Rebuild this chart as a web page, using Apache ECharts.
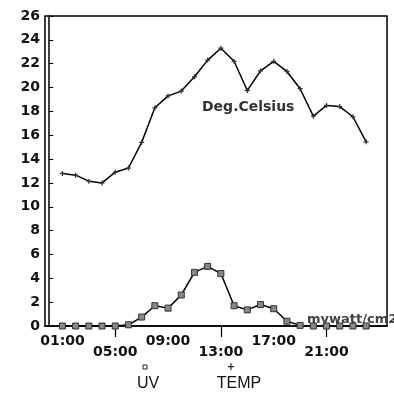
<!DOCTYPE html>
<html><head><meta charset="utf-8">
<script src="https://cdn.jsdelivr.net/npm/echarts@6/dist/echarts.min.js"></script>
<style>html,body{margin:0;padding:0;background:#fff}#c{width:394px;height:401px}</style>
</head><body><div id="c"></div>
<script>
const hours = [1,2,3,4,5,6,7,8,9,10,11,12,13,14,15,16,17,18,19,20,21,22,23,24];
const uv = [0,0,0,0,0,0.1,0.75,1.7,1.5,2.6,4.5,5.0,4.4,1.7,1.35,1.8,1.45,0.4,0.05,0,0,0,0,0];
const temp = [12.8,12.65,12.15,12.0,12.9,13.25,15.4,18.3,19.3,19.7,20.9,22.3,23.3,22.2,19.75,21.4,22.2,21.35,19.9,17.6,18.5,18.4,17.55,15.45];
const upperTickHours = [1,9,17];
const lowerTickHours = [5,13,21];
const yTicks = [0,2,4,6,8,10,12,14,16,18,20,22,24,26];
const seriesNames = ['UV','TEMP'];
const unitLabels = ['Deg.Celsius','mywatt/cm2'];

const fmt = v => (v < 10 ? '0' : '') + v + ':00';
const xMin = -0.32, xMax = 25.58;
const lblFont = {fontFamily:'DejaVu Sans', fontWeight:'bold', fontSize:14, color:'#111'};
const plus = 'path://M3,0H5V3H8V5H5V8H3V5H0V3H3Z';

const chart = echarts.init(document.getElementById('c'));
chart.setOption({
  animation:false,
  backgroundColor:'#fff',
  grid:{left:45, right:7, top:16, bottom:75, show:true, borderColor:'#000', borderWidth:1.5},
  xAxis:[
    {type:'value', min:xMin, max:xMax, position:'bottom',
     axisLine:{show:true, lineStyle:{color:'#000', width:1.5}},
     axisTick:{show:true, customValues:lowerTickHours, length:11, lineStyle:{color:'#000', width:1.2}},
     axisLabel:Object.assign({customValues:upperTickHours, margin:8, formatter:fmt}, lblFont),
     splitLine:{show:false}},
    {type:'value', min:xMin, max:xMax, position:'bottom', gridIndex:0,
     axisLine:{show:false}, axisTick:{show:false},
     axisLabel:Object.assign({customValues:lowerTickHours, margin:19, formatter:fmt}, lblFont),
     splitLine:{show:false}}
  ],
  yAxis:{type:'value', min:yTicks[0], max:yTicks[yTicks.length-1], interval:2,
    axisLine:{show:true, lineStyle:{color:'#000', width:1.5}},
    axisTick:{show:true, inside:true, length:4, lineStyle:{color:'#000'}},
    axisLabel:Object.assign({margin:5}, lblFont),
    splitLine:{show:false}},
  series:[
    {name:seriesNames[0], type:'line', xAxisIndex:0, data:hours.map((h,i)=>[h,uv[i]]),
     symbol:'rect', symbolSize:6, showAllSymbol:true,
     itemStyle:{color:'#888', borderColor:'#333', borderWidth:1},
     lineStyle:{color:'#000', width:1.5}},
    {name:seriesNames[1], type:'line', xAxisIndex:0, data:hours.map((h,i)=>[h,temp[i]]),
     symbol:plus, symbolSize:5, showAllSymbol:true,
     itemStyle:{color:'#333'},
     lineStyle:{color:'#000', width:1.5}}
  ],
  graphic:[
    {type:'text', left:202, top:100, style:{text:unitLabels[0], font:'bold 14px "DejaVu Sans"', fill:'#333'}},
    {type:'text', left:307, top:313, style:{text:unitLabels[1], font:'bold 13px "DejaVu Sans"', fill:'#444'}},
    {type:'rect', shape:{x:143, y:365, width:4, height:4}, style:{fill:'#fff', stroke:'#222', lineWidth:1}},
    {type:'text', x:148, y:384, style:{text:seriesNames[0], font:'16px "Liberation Sans"', fill:'#111', align:'center', verticalAlign:'middle'}},
    {type:'text', x:231, y:367, style:{text:'+', font:'bold 10px "DejaVu Sans"', fill:'#222', align:'center', verticalAlign:'middle'}},
    {type:'text', x:239, y:384, style:{text:seriesNames[1], font:'16px "Liberation Sans"', fill:'#111', align:'center', verticalAlign:'middle'}}
  ]
});
</script></body></html>
